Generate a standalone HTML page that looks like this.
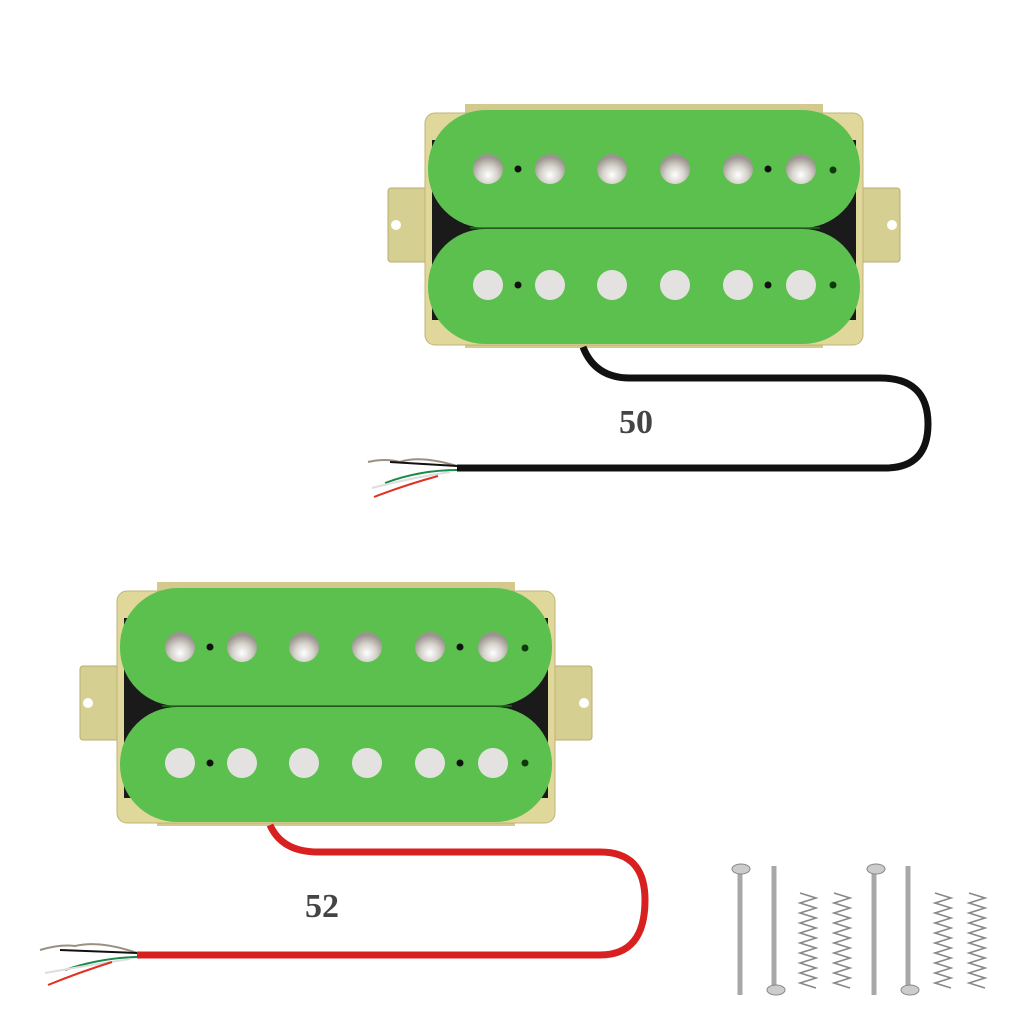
<!DOCTYPE html>
<html><head><style>html,body{margin:0;padding:0;background:#fff}svg{display:block}</style></head>
<body>
<svg width="1024" height="1024" viewBox="0 0 1024 1024" xmlns="http://www.w3.org/2000/svg">
<defs>
<radialGradient id="pole" cx="0.5" cy="0.7" r="0.6">
<stop offset="0" stop-color="#ffffff"/><stop offset="0.5" stop-color="#d8d4ce"/><stop offset="1" stop-color="#9a958e"/>
</radialGradient>
<g id="pu">
<!-- ears -->
<rect x="388" y="188" width="50" height="74" rx="3" fill="#d6cf92" stroke="#b8ae70"/>
<rect x="850" y="188" width="50" height="74" rx="3" fill="#d6cf92" stroke="#b8ae70"/>
<circle cx="396" cy="225" r="5" fill="#fff"/>
<circle cx="892" cy="225" r="5" fill="#fff"/>
<!-- frame -->
<rect x="465" y="104" width="358" height="244" fill="#d3c98c"/>
<rect x="425" y="113" width="438" height="232" rx="10" fill="#e0d79a" stroke="#bfb478"/>
<rect x="432" y="140" width="424" height="180" fill="#1a1a1a"/>
<!-- coils -->
<rect x="428" y="110" width="432" height="118" rx="58" fill="#5cc04e"/>
<rect x="428" y="229" width="432" height="115" rx="57" fill="#5cc04e"/>
<line x1="470" y1="228" x2="820" y2="228" stroke="#2a6a22" stroke-width="1.5"/>
<!-- poles -->
<g fill="url(#pole)">
<circle cx="488" cy="169" r="15"/><circle cx="550" cy="169" r="15"/><circle cx="612" cy="169" r="15"/>
<circle cx="675" cy="169" r="15"/><circle cx="738" cy="169" r="15"/><circle cx="801" cy="169" r="15"/>
</g>
<g fill="#e4e2e0">
<circle cx="488" cy="285" r="15"/><circle cx="550" cy="285" r="15"/><circle cx="612" cy="285" r="15"/>
<circle cx="675" cy="285" r="15"/><circle cx="738" cy="285" r="15"/><circle cx="801" cy="285" r="15"/>
</g>
<g fill="#111"><circle cx="518" cy="169" r="3.5"/><circle cx="768" cy="169" r="3.5"/><circle cx="518" cy="285" r="3.5"/><circle cx="768" cy="285" r="3.5"/></g>
<g fill="#0d3a0d"><circle cx="833" cy="170" r="3.5"/><circle cx="833" cy="285" r="3.5"/></g>
</g>
</defs>

<use href="#pu"/>
<use href="#pu" transform="translate(-308,478)"/>

<!-- black cable -->
<path d="M583 347 Q595 378 630 378 L880 378 Q928 378 928 424 Q928 468 885 468 L457 468" fill="none" stroke="#111" stroke-width="7"/>
<!-- wires top -->
<g fill="none" stroke-width="2">
<path d="M457 466 Q420 455 400 462 Q385 458 368 462" stroke="#9a9080"/>
<path d="M457 466 L390 462" stroke="#111"/>
<path d="M457 470 Q420 470 385 483" stroke="#1a8a4a"/>
<path d="M450 472 Q410 478 372 488" stroke="#ddd"/>
<path d="M438 476 Q405 485 374 497" stroke="#e03020"/>
</g>
<text x="636" y="433" text-anchor="middle" font-family="Liberation Serif, serif" font-weight="bold" font-size="34" fill="#444">50</text>

<!-- red cable -->
<path d="M270 825 Q282 852 318 852 L600 852 Q645 852 645 900 Q645 955 600 955 L137 955" fill="none" stroke="#d92020" stroke-width="7"/>
<g fill="none" stroke-width="2">
<path d="M137 953 Q100 940 75 946 Q60 944 40 950" stroke="#9a9080"/>
<path d="M137 953 L60 950" stroke="#111"/>
<path d="M137 957 Q100 958 65 970" stroke="#1a8a4a"/>
<path d="M130 959 Q90 965 45 973" stroke="#ddd"/>
<path d="M112 962 Q80 972 48 985" stroke="#e03020"/>
</g>
<text x="322" y="917" text-anchor="middle" font-family="Liberation Serif, serif" font-weight="bold" font-size="34" fill="#444">52</text>

<!-- screws -->
<g stroke="#a8a8a8" stroke-width="5" fill="none">
<line x1="740" y1="866" x2="740" y2="995"/><line x1="774" y1="866" x2="774" y2="992"/>
<line x1="874" y1="866" x2="874" y2="995"/><line x1="908" y1="866" x2="908" y2="992"/>
</g>
<g fill="#ccc" stroke="#888">
<ellipse cx="741" cy="869" rx="9" ry="5"/><ellipse cx="776" cy="990" rx="9" ry="5"/>
<ellipse cx="876" cy="869" rx="9" ry="5"/><ellipse cx="910" cy="990" rx="9" ry="5"/>
</g>
<g stroke="#888" stroke-width="1.6" fill="none">
<path d="M800 893 l16 5 l-16 5 l16 5 l-16 5 l16 5 l-16 5 l16 5 l-16 5 l16 5 l-16 5 l16 5 l-16 5 l16 5 l-16 5 l16 5 l-16 5 l16 5 l-16 5 l16 5"/>
<path d="M834 893 l16 5 l-16 5 l16 5 l-16 5 l16 5 l-16 5 l16 5 l-16 5 l16 5 l-16 5 l16 5 l-16 5 l16 5 l-16 5 l16 5 l-16 5 l16 5 l-16 5 l16 5"/>
<path d="M935 893 l16 5 l-16 5 l16 5 l-16 5 l16 5 l-16 5 l16 5 l-16 5 l16 5 l-16 5 l16 5 l-16 5 l16 5 l-16 5 l16 5 l-16 5 l16 5 l-16 5 l16 5"/>
<path d="M969 893 l16 5 l-16 5 l16 5 l-16 5 l16 5 l-16 5 l16 5 l-16 5 l16 5 l-16 5 l16 5 l-16 5 l16 5 l-16 5 l16 5 l-16 5 l16 5 l-16 5 l16 5"/>
</g>
</svg>
</body></html>
